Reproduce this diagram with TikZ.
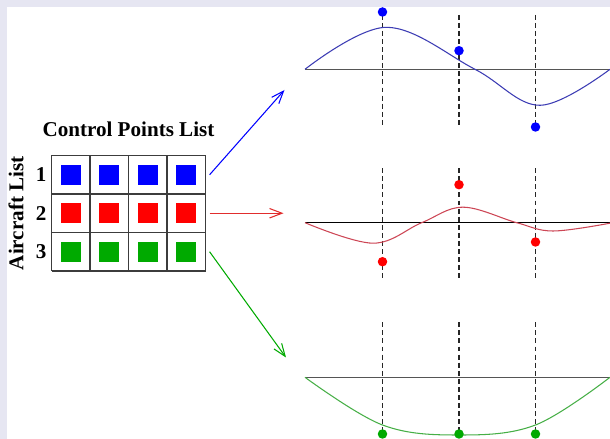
\documentclass[tikz,border=0pt]{standalone}
\usepackage{fontspec}
\setmainfont{Liberation Serif}
\usepackage{xcolor}
\usepackage{tikz}
\usetikzlibrary{arrows.meta,positioning}
\definecolor{frameband}{RGB}{230,230,242}
\definecolor{cpblue}{RGB}{0,0,255}
\definecolor{cpred}{RGB}{255,0,0}
\definecolor{cpgreen}{RGB}{0,170,0}
\definecolor{bluecurve}{RGB}{60,60,180}
\definecolor{redcurve}{RGB}{205,70,85}
\definecolor{redarrow}{RGB}{225,45,45}
\definecolor{greencurve}{RGB}{70,175,70}
\definecolor{gridgray}{RGB}{60,60,60}
\definecolor{axisgray}{RGB}{85,85,85}
\tikzset{
  lbl/.style={font=\fontsize{12}{14}\selectfont\bfseries, inner sep=0pt},
  cp/.style={minimum size=0.4cm, inner sep=0pt},
  dot/.style={circle, minimum size=0.19cm, inner sep=0pt},
  knot/.style={dash pattern=on 2.8pt off 1.8pt, line width=0.6pt, black!85},
  flow/.style={line width=0.6pt, -{Straight Barb[length=2.5mm,width=1.9mm]}},
  curve/.style={line width=0.6pt, smooth, tension=0.6},
}

\begin{document}
\begin{tikzpicture}
\useasboundingbox (0,0) rectangle (12.2,8.78);
\fill[frameband] (0,0) rectangle (12.2,8.78);
\fill[white] (0.14,0) rectangle (12.2,8.64);
% control point table
\begin{scope}[shift={(1.03,3.36)}]
\draw[gridgray, line width=0.6pt, step=0.77] (0,0) grid (3.083,2.313);
\end{scope}
\foreach \i/\x in {1/1.415,2/2.185,3/2.955,4/3.725} {
  \node[cp, fill=cpblue] (a\i) at (\x,5.285) {};
  \node[cp, fill=cpred] (b\i) at (\x,4.515) {};
  \node[cp, fill=cpgreen] (c\i) at (\x,3.745) {};
}
\node[lbl, left=0.275cm of a1] (row1) {1};
\node[lbl, left=0.275cm of b1] (row2) {2};
\node[lbl, left=0.275cm of c1] (row3) {3};
\node[lbl, rotate=90] (aclist) at (0.32,4.515) {Aircraft List};
\node[lbl, anchor=base] (cplist) at (2.57,6.05) {Control Points List};
% arrows to the curves
\coordinate (out1) at ([xshift=0.26cm]a4.east);
\coordinate (out2) at ([xshift=0.26cm]b4.east);
\coordinate (out3) at ([xshift=0.26cm]c4.east);
\coordinate (in1) at (5.69,6.98);
\coordinate (in2) at (5.67,4.515);
\coordinate (in3) at (5.72,1.63);
\draw[flow, cpblue] (out1) -- (in1);
\draw[flow, redarrow] (out2) -- (in2);
\draw[flow, cpgreen] (out3) -- (in3);
% aircraft 1
\begin{scope}[yshift=7.394cm]
\draw[axisgray, line width=0.7pt] (6.1,0) -- (12.2,0);
\draw[knot] (7.65,1.09) -- (7.65,-1.17);
\draw[knot] (9.18,1.09) -- (9.18,-1.17);
\draw[knot] (10.71,1.09) -- (10.71,-1.17);
\draw[curve, bluecurve] plot coordinates {(6.1,0) (7.73,0.84) (9.5,0) (10.8,-0.72) (12.2,0)};
\node[dot, fill=cpblue] (p11) at (7.65,1.146) {};
\node[dot, fill=cpblue] (p12) at (9.18,0.372) {};
\node[dot, fill=cpblue] (p13) at (10.71,-1.154) {};
\end{scope}
% aircraft 2
\begin{scope}[yshift=4.326cm]
\draw[black, line width=0.7pt] (6.1,0) -- (12.2,0);
\draw[knot] (7.65,1.09) -- (7.65,-1.17);
\draw[knot] (9.18,1.09) -- (9.18,-1.17);
\draw[knot] (10.71,1.09) -- (10.71,-1.17);
\draw[curve, redcurve] plot coordinates {(6.1,0) (7.46,-0.41) (8.434,0) (9.26,0.31) (10.334,0) (11.06,-0.166) (12.2,-0.01)};
\node[dot, fill=cpred] (p21) at (7.65,-0.78) {};
\node[dot, fill=cpred] (p22) at (9.18,0.76) {};
\node[dot, fill=cpred] (p23) at (10.71,-0.386) {};
\end{scope}
% aircraft 3
\begin{scope}[yshift=1.234cm]
\draw[axisgray, line width=0.7pt] (6.1,0) -- (12.2,0);
\draw[knot] (7.65,1.1) -- (7.65,-1.17);
\draw[knot] (9.18,1.1) -- (9.18,-1.17);
\draw[knot] (10.71,1.1) -- (10.71,-1.17);
\draw[curve, greencurve] plot coordinates {(6.1,0) (7.65,-0.954) (9.18,-1.154) (10.71,-0.954) (12.2,0)};
\node[dot, fill=cpgreen] (p31) at (7.65,-1.134) {};
\node[dot, fill=cpgreen] (p32) at (9.18,-1.134) {};
\node[dot, fill=cpgreen] (p33) at (10.71,-1.134) {};
\end{scope}
\end{tikzpicture}
\end{document}
